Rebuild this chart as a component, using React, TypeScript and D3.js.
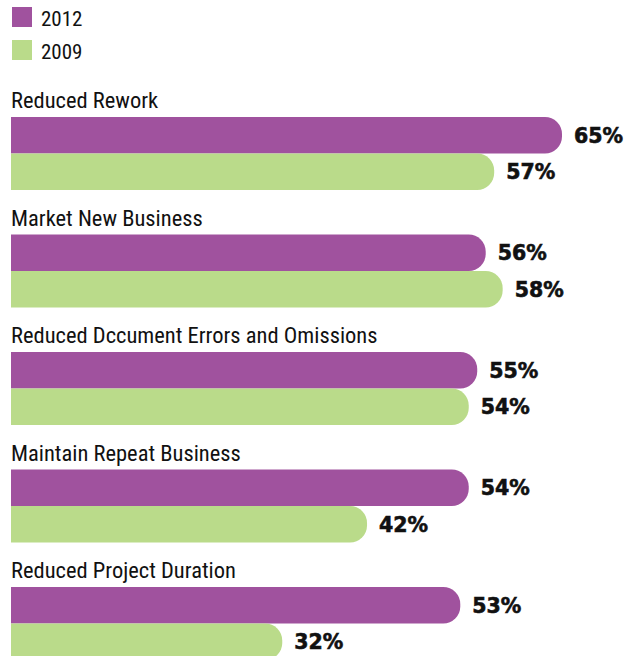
import * as d3 from "d3";

const categories = [
  "Reduced Rework",
  "Market New Business",
  "Reduced Dccument Errors and Omissions",
  "Maintain Repeat Business",
  "Reduced Project Duration",
];
const series = ["2012", "2009"];
const values2012 = [65, 56, 55, 54, 53];
const values2009 = [57, 58, 54, 42, 32];

const colors = { "2012": "#a0529e", "2009": "#badb8a" };
const labelFont = "'Roboto Condensed', 'Liberation Sans Narrow', 'DejaVu Sans Condensed', Roboto, sans-serif";

// right side rounded, left side square
const barPath = (x0: number, x1: number, y0: number, h: number, r: number) => {
  const rr = Math.min(r, h / 2, x1 - x0);
  return `M${x0},${y0}H${x1 - rr}A${rr},${rr} 0 0 1 ${x1},${y0 + rr}V${y0 + h - rr}A${rr},${rr} 0 0 1 ${x1 - rr},${y0 + h}H${x0}Z`;
};

export default function App() {
  const width = 635;
  const height = 656;

  const x = d3.scaleLinear().domain([0, 65]).range([11, 562]);
  const groupY = d3.scaleBand().domain(categories).range([117, 117 + 117.5 * categories.length]);
  const barY = d3.scaleBand().domain(series).range([0, 73]);

  const rows = categories.map((c, i) => ({
    name: c,
    vals: { "2012": values2012[i], "2009": values2009[i] },
  }));

  return (
    <svg width={width} height={height} style={{ position: "absolute", left: 0, top: 0 }}>
      <rect width={width} height={height} fill="#fff" />
      {/* legend */}
      {series.map((s, i) => (
        <g key={s} transform={`translate(12,${7 + i * 33})`}>
          <rect width={20} height={20} fill={colors[s]} />
          <text x={29} y={19} fontFamily={labelFont} fontSize={21} fill="#111">
            {s}
          </text>
        </g>
      ))}
      {rows.map((r) => {
        const gy = groupY(r.name)!;
        return (
          <g key={r.name}>
            <text x={11} y={gy - 9} fontFamily={labelFont} fontSize={22.5} fill="#111">
              {r.name}
            </text>
            {series.map((s) => {
              const by = gy + barY(s)!;
              const h = barY.bandwidth();
              const v = r.vals[s];
              return (
                <g key={s}>
                  <path d={barPath(x(0), x(v), by, h, 17)} fill={colors[s]} />
                  <text
                    x={x(v) + 12}
                    y={by + h / 2}
                    dy="0.37em"
                    fontFamily="'DejaVu Sans', sans-serif"
                    fontWeight="bold"
                    fontSize={20.5}
                    fill="#111"
                    stroke="#111"
                    strokeWidth={0.6}
                  >
                    {v}%
                  </text>
                </g>
              );
            })}
          </g>
        );
      })}
    </svg>
  );
}
